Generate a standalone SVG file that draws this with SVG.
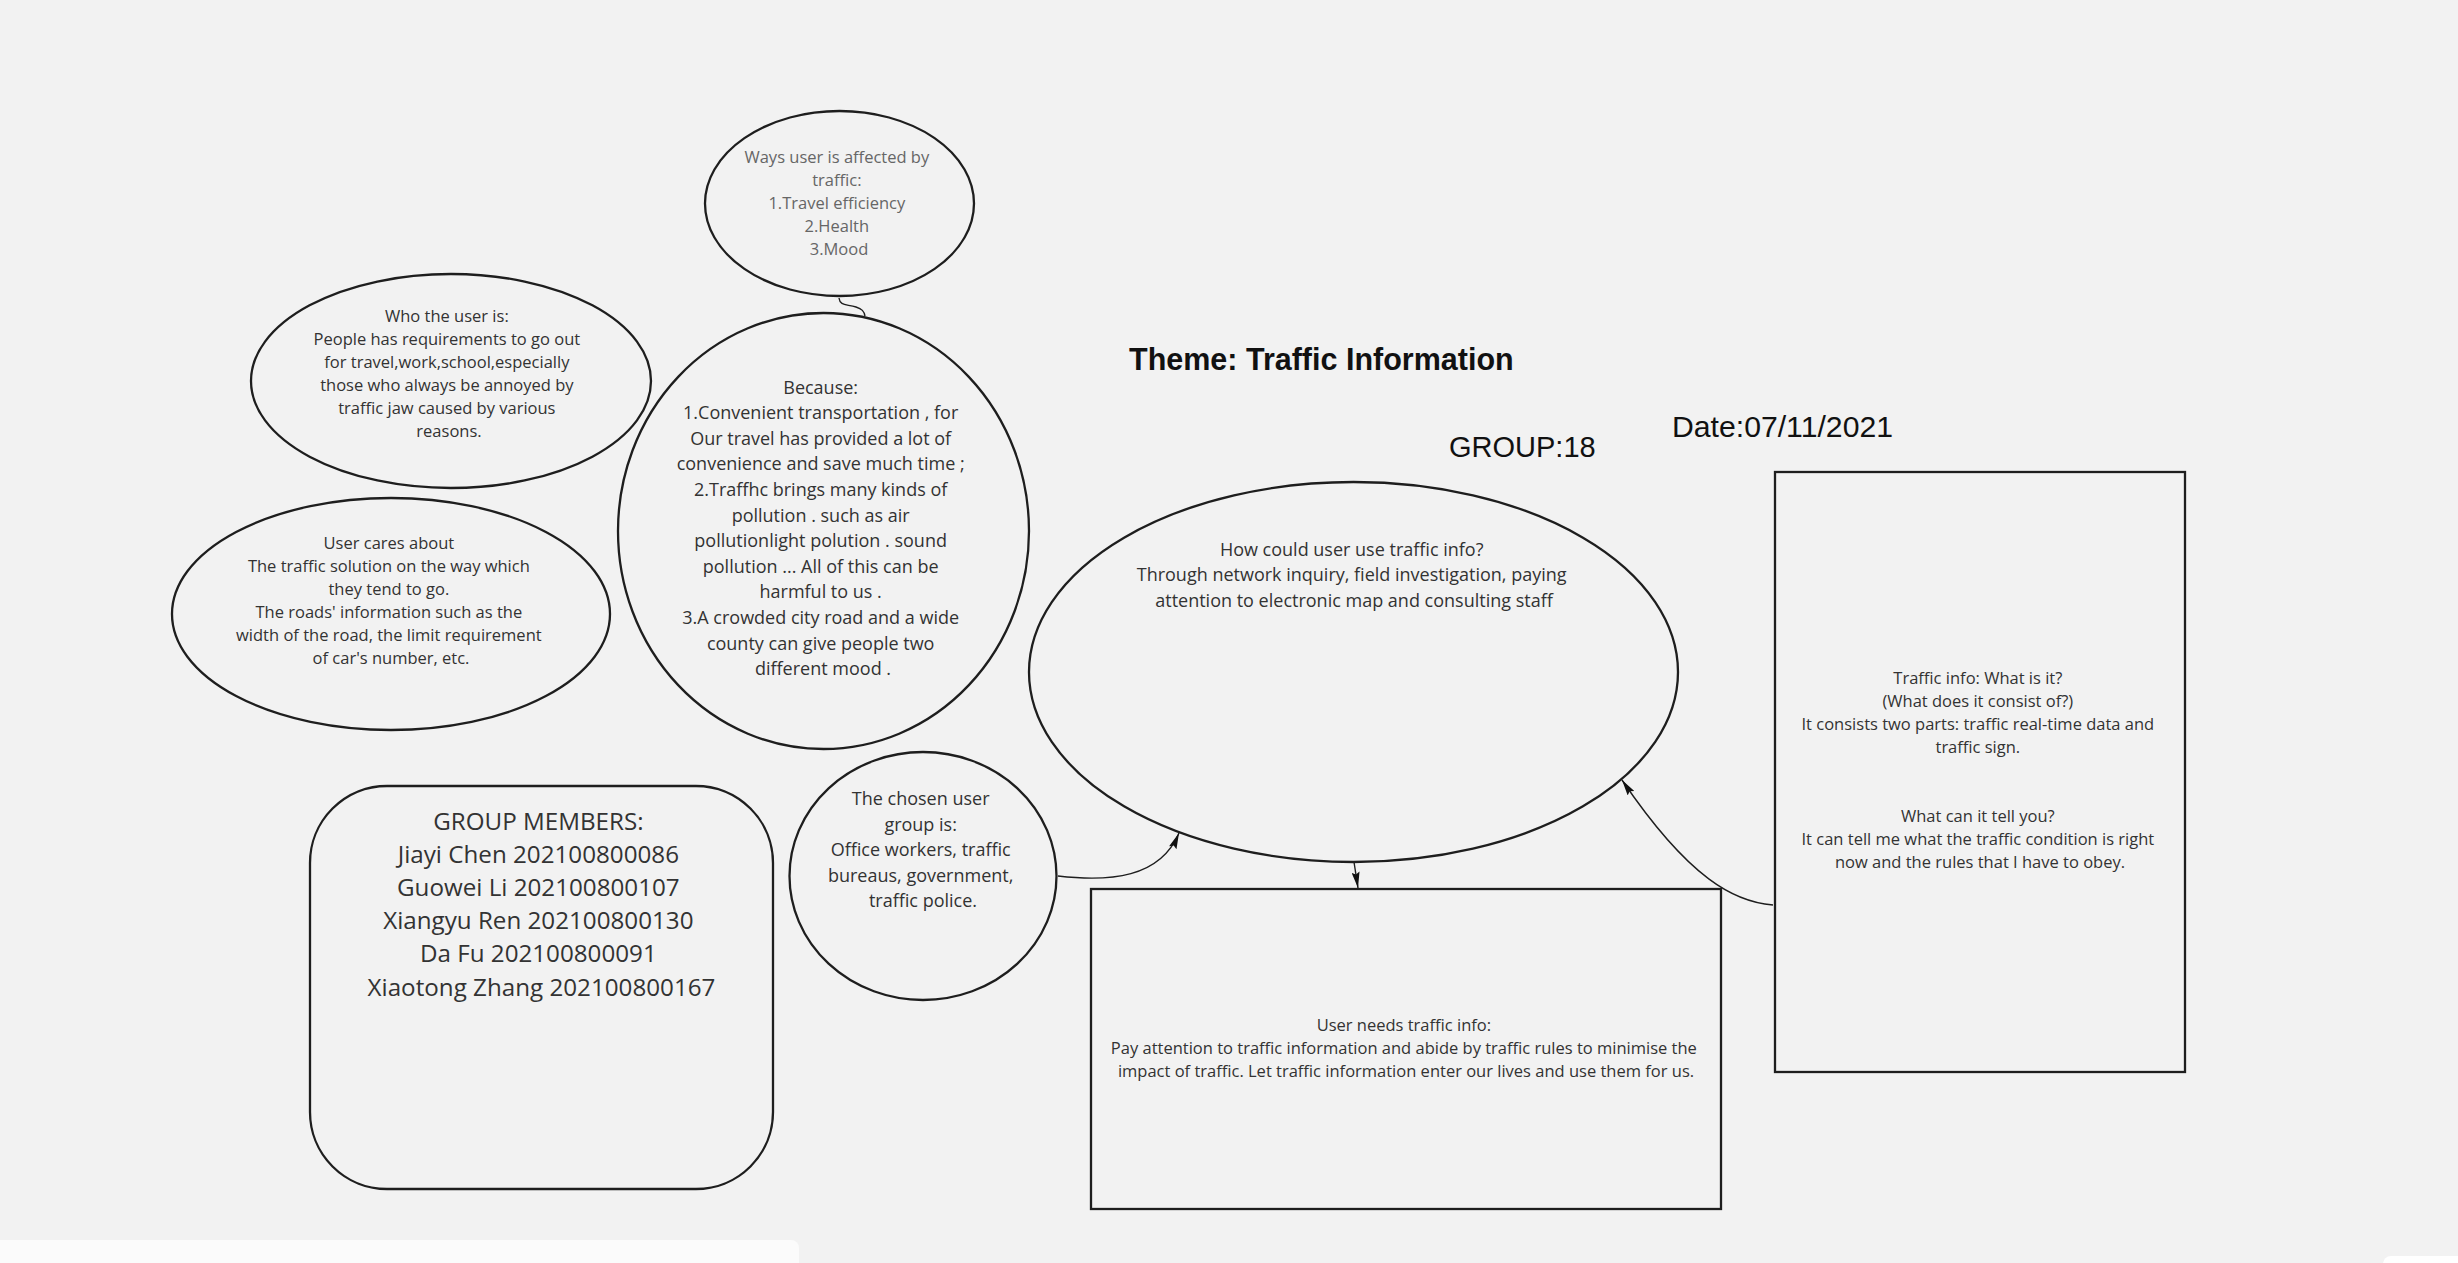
<svg xmlns="http://www.w3.org/2000/svg" width="2458" height="1263" viewBox="0 0 2458 1263">
<defs>
<style>
.shape{fill:none;stroke:#1e1e1e;stroke-width:2.3}
.conn{fill:none;stroke:#1e1e1e;stroke-width:1.4}
.t{font-family:"Open Sans","Noto Sans","DejaVu Sans",sans-serif;text-anchor:middle;fill:#333}
.s{font-size:16.5px}
.m{font-size:18px}
.l{font-size:24.2px}
.g{fill:#666}
.h{font-family:"Liberation Sans",Arial,sans-serif;fill:#111}
</style>
<marker id="arr" viewBox="0 0 20 10" refX="20" refY="5" markerWidth="18" markerHeight="8" markerUnits="userSpaceOnUse" orient="auto">
<path d="M0,0 L20,5 L0,10 L3,5 Z" fill="#111"/>
</marker>
</defs>
<rect x="0" y="0" width="2458" height="1263" fill="#f2f2f2"/>
<rect x="-10" y="1240" width="809" height="40" rx="8" fill="#fbfbfb"/>
<rect x="2383" y="1256" width="90" height="30" rx="8" fill="#ffffff"/>

<g id="connectors">
<path class="conn" d="M839,298 C840,306 846,304 856,307 C862,309 864,311 865,316"/>
<path class="conn" d="M1058,876 C1110,882 1160,878 1179,833" marker-end="url(#arr)"/>
<path class="conn" d="M1354,862 L1358,888" marker-end="url(#arr)"/>
<path class="conn" d="M1773,905 C1735,902 1690,880 1622,780" marker-end="url(#arr)"/>
</g>

<g id="title">
<text class="h" x="1129" y="370" font-size="30.5" font-weight="bold">Theme: Traffic Information</text>
</g>
<g id="group-label">
<text class="h" x="1449" y="457" font-size="29">GROUP:18</text>
</g>
<g id="date-label">
<text class="h" x="1672" y="437" font-size="30.2">Date:07/11/2021</text>
</g>

<g id="node-ways">
<ellipse class="shape" cx="839.5" cy="203.5" rx="134.5" ry="92.5"/>
<text class="t s g" x="839">
<tspan x="839" y="163">Ways user is affected by</tspan>
<tspan x="839" y="186">traffic:</tspan>
<tspan x="839" y="209">1.Travel efficiency</tspan>
<tspan x="839" y="232">2.Health</tspan>
<tspan x="839" y="255">3.Mood</tspan>
</text>
</g>

<g id="node-who">
<ellipse class="shape" cx="451" cy="381" rx="200" ry="107"/>
<text class="t s" x="449">
<tspan x="449" y="322">Who the user is:</tspan>
<tspan x="449" y="345">People has requirements to go out</tspan>
<tspan x="449" y="368">for travel,work,school,especially</tspan>
<tspan x="449" y="391">those who always be annoyed by</tspan>
<tspan x="449" y="414">traffic jaw caused by various</tspan>
<tspan x="449" y="437">reasons.</tspan>
</text>
</g>

<g id="node-cares">
<ellipse class="shape" cx="391" cy="614" rx="219" ry="116"/>
<text class="t s" x="391">
<tspan x="391" y="549">User cares about</tspan>
<tspan x="391" y="572">The traffic solution on the way which</tspan>
<tspan x="391" y="595">they tend to go.</tspan>
<tspan x="391" y="618">The roads' information such as the</tspan>
<tspan x="391" y="641">width of the road, the limit requirement</tspan>
<tspan x="391" y="664">of car's number, etc.</tspan>
</text>
</g>

<g id="node-because">
<ellipse class="shape" cx="823.5" cy="531" rx="205.5" ry="218"/>
<text class="t m" x="823">
<tspan x="823" y="393.5">Because:</tspan>
<tspan x="823" y="419.1">1.Convenient transportation , for</tspan>
<tspan x="823" y="444.7">Our travel has provided a lot of</tspan>
<tspan x="823" y="470.3">convenience and save much time ;</tspan>
<tspan x="823" y="495.9">2.Traffhc brings many kinds of</tspan>
<tspan x="823" y="521.5">pollution . such as air</tspan>
<tspan x="823" y="547.1">pollutionlight polution . sound</tspan>
<tspan x="823" y="572.7">pollution ... All of this can be</tspan>
<tspan x="823" y="598.3">harmful to us .</tspan>
<tspan x="823" y="623.9">3.A crowded city road and a wide</tspan>
<tspan x="823" y="649.5">county can give people two</tspan>
<tspan x="823" y="675.1">different mood .</tspan>
</text>
</g>

<g id="node-how">
<ellipse class="shape" cx="1353.5" cy="672" rx="324.5" ry="190"/>
<text class="t m" x="1353">
<tspan x="1354" y="555.5">How could user use traffic info?</tspan>
<tspan x="1354" y="581">Through network inquiry, field investigation, paying</tspan>
<tspan x="1354" y="606.5">attention to electronic map and consulting staff</tspan>
</text>
</g>

<g id="node-chosen">
<ellipse class="shape" cx="923" cy="876" rx="133.5" ry="124"/>
<text class="t m" x="923">
<tspan x="923" y="805">The chosen user</tspan>
<tspan x="923" y="830.5">group is:</tspan>
<tspan x="923" y="856">Office workers, traffic</tspan>
<tspan x="923" y="881.5">bureaus, government,</tspan>
<tspan x="923" y="907">traffic police.</tspan>
</text>
</g>

<g id="node-members">
<rect class="shape" x="310" y="786" width="463" height="403" rx="77" ry="77"/>
<text class="t l" x="541.5">
<tspan x="541.5" y="829.5">GROUP MEMBERS:</tspan>
<tspan x="541.5" y="862.7">Jiayi Chen 202100800086</tspan>
<tspan x="541.5" y="895.9">Guowei Li 202100800107</tspan>
<tspan x="541.5" y="929.1">Xiangyu Ren 202100800130</tspan>
<tspan x="541.5" y="962.3">Da Fu 202100800091</tspan>
<tspan x="541.5" y="995.5">Xiaotong Zhang 202100800167</tspan>
</text>
</g>

<g id="node-what">
<rect class="shape" x="1775" y="472" width="410" height="600"/>
<text class="t s" x="1980">
<tspan x="1980" y="684">Traffic info: What is it?</tspan>
<tspan x="1980" y="707">(What does it consist of?)</tspan>
<tspan x="1980" y="730">It consists two parts: traffic real-time data and</tspan>
<tspan x="1980" y="753">traffic sign.</tspan>
<tspan x="1980" y="822">What can it tell you?</tspan>
<tspan x="1980" y="845">It can tell me what the traffic condition is right</tspan>
<tspan x="1980" y="868">now and the rules that I have to obey.</tspan>
</text>
</g>

<g id="node-needs">
<rect class="shape" x="1091" y="889" width="630" height="320"/>
<text class="t s" x="1406">
<tspan x="1406" y="1031">User needs traffic info:</tspan>
<tspan x="1406" y="1054">Pay attention to traffic information and abide by traffic rules to minimise the</tspan>
<tspan x="1406" y="1077">impact of traffic. Let traffic information enter our lives and use them for us.</tspan>
</text>
</g>
</svg>
